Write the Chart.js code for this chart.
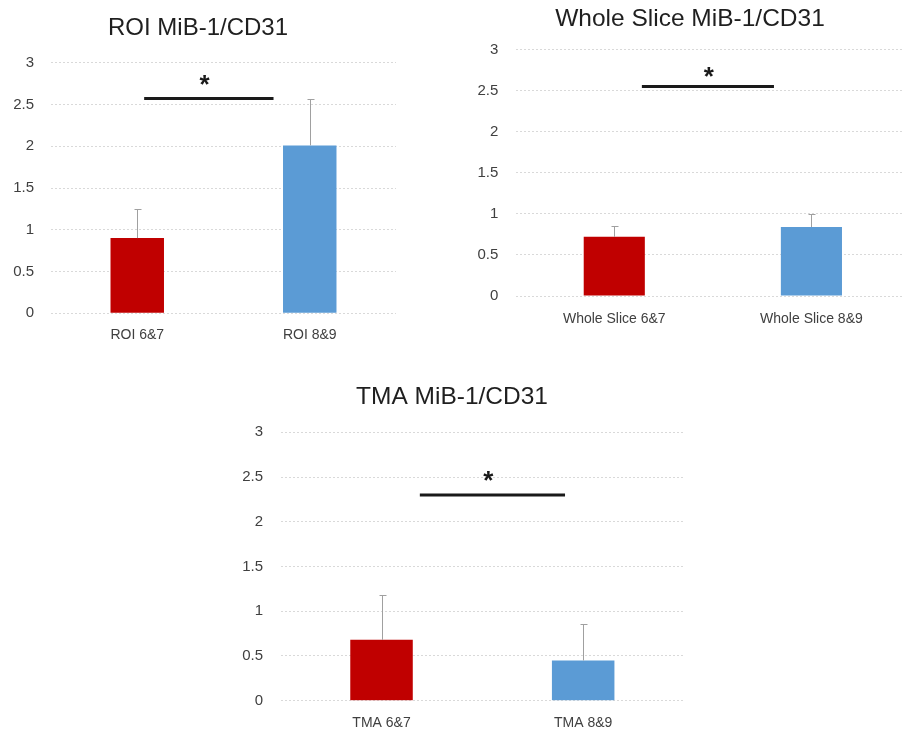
<!DOCTYPE html>
<html>
<head>
<meta charset="utf-8">
<script src="https://cdn.jsdelivr.net/npm/chart.js@4.4.1/dist/chart.umd.min.js"></script>
<style>
html, body { margin: 0; padding: 0; background: #fff; overflow: hidden; width: 902px; height: 734px; position: relative; }
canvas { position: absolute; }
</style>
</head>
<body>
<canvas id="roi-chart" width="400" height="360" style="left:0;top:0"></canvas>
<canvas id="ws-chart" width="440" height="340" style="left:470px;top:0"></canvas>
<canvas id="tma-chart" width="470" height="364" style="left:220px;top:370px"></canvas>
<script>
// data
var roiLabels = ["ROI 6&7", "ROI 8&9"];
var roiMeans = [0.90, 2.01];
var roiSd = [0.35, 0.55];
var roiSig = [0.04, 0.79, 2.57];   // from cat, to cat, y value
var roiStar = [0.39, 2.77];

var wsLabels = ["Whole Slice 6&7", "Whole Slice 8&9"];
var wsMeans = [0.72, 0.84];
var wsSd = [0.13, 0.16];
var wsSig = [0.14, 0.81, 2.55];
var wsStar = [0.48, 2.70];

var tmaLabels = ["TMA 6&7", "TMA 8&9"];
var tmaMeans = [0.68, 0.45];
var tmaSd = [0.50, 0.41];
var tmaSig = [0.19, 0.91, 2.30];
var tmaStar = [0.53, 2.49];

var yTicks = [0, 0.5, 1, 1.5, 2, 2.5, 3];
var barColors = ["#C00000", "#5B9BD5"];

var FONT = "'Liberation Sans', Arial, sans-serif";

// error bars (upper only), significance line and asterisk
var marksPlugin = {
    id: 'marks',
    afterDatasetsDraw: function (chart, args, opts) {
        var ctx = chart.ctx;
        var xs = chart.scales.x, ys = chart.scales.y;
        var meta = chart.getDatasetMeta(0);
        var vals = chart.data.datasets[0].data;
        ctx.save();
        ctx.strokeStyle = '#A0A0A0';
        ctx.lineWidth = 1;
        meta.data.forEach(function (bar, i) {
            var top = Math.round(ys.getPixelForValue(vals[i] + opts.sd[i])) + 0.5;
            var cx = Math.round(bar.x) + 0.5;
            ctx.beginPath();
            ctx.moveTo(cx, bar.y);
            ctx.lineTo(cx, top);
            ctx.moveTo(cx - 3, top);
            ctx.lineTo(cx + 4, top);
            ctx.stroke();
        });
        var sy = ys.getPixelForValue(opts.sig[2]);
        ctx.strokeStyle = '#1a1a1a';
        ctx.lineWidth = opts.sigWidth;
        ctx.beginPath();
        ctx.moveTo(xs.getPixelForValue(opts.sig[0]), sy);
        ctx.lineTo(xs.getPixelForValue(opts.sig[1]), sy);
        ctx.stroke();
        ctx.fillStyle = '#1a1a1a';
        ctx.font = 'bold 26px ' + FONT;
        ctx.textAlign = 'center';
        ctx.textBaseline = 'middle';
        ctx.fillText('*', xs.getPixelForValue(opts.star[0]), ys.getPixelForValue(opts.star[1]) + 4);
        ctx.restore();
    }
};

function makeChart(id, title, labels, means, sd, sig, star, lay) {
    return new Chart(document.getElementById(id), {
        type: 'bar',
        data: {
            labels: labels,
            datasets: [{
                data: means,
                backgroundColor: barColors,
                borderWidth: 0,
                barPercentage: 0.31,
                categoryPercentage: 1
            }]
        },
        options: {
            responsive: false,
            animation: false,
            layout: { padding: { left: 0, right: lay.right, top: 0, bottom: 0 } },
            plugins: {
                legend: { display: false },
                tooltip: { enabled: false },
                title: {
                    display: true,
                    text: title,
                    color: '#1f1f1f',
                    font: { family: FONT, size: lay.titleSize, weight: 'normal' },
                    padding: { top: lay.titleTop, bottom: lay.titleBottom }
                },
                marks: { sd: sd, sig: sig, star: star, sigWidth: lay.sigWidth }
            },
            scales: {
                x: {
                    grid: { display: false },
                    border: { display: false },
                    ticks: { color: '#404040', padding: lay.xPad, font: { family: FONT, size: 14 } },
                    afterFit: function (s) { s.height = lay.xH; }
                },
                y: {
                    min: 0,
                    max: 3,
                    afterBuildTicks: function (s) { s.ticks = yTicks.map(function (v) { return { value: v }; }); },
                    grid: { color: '#D9D9D9', drawTicks: false },
                    border: { display: false, dash: [2, 2] },
                    ticks: {
                        color: '#404040',
                        padding: lay.yPad,
                        font: { family: FONT, size: 15 },
                        callback: function (v) { return String(v); }
                    },
                    afterFit: function (s) { s.width = lay.yW; }
                }
            }
        },
        plugins: [marksPlugin]
    });
}

makeChart('roi-chart', 'ROI MiB-1/CD31', roiLabels, roiMeans, roiSd, roiSig, roiStar,
    { right: 4, titleSize: 24, titleTop: 14, titleBottom: 19.9, xH: 46.7, xPad: 5, yW: 51, yPad: 17, sigWidth: 3 });
makeChart('ws-chart', 'Whole Slice MiB-1/CD31', wsLabels, wsMeans, wsSd, wsSig, wsStar,
    { right: 0, titleSize: 24.5, titleTop: 4.6, titleBottom: 15.6, xH: 44, xPad: 7, yW: 45.7, yPad: 17.4, sigWidth: 3 });
makeChart('tma-chart', 'TMA MiB-1/CD31', tmaLabels, tmaMeans, tmaSd, tmaSig, tmaStar,
    { right: 6, titleSize: 24.5, titleTop: 13, titleBottom: 19.9, xH: 33.3, xPad: 6.5, yW: 60.7, yPad: 17.7, sigWidth: 3 });
</script>
</body>
</html>
